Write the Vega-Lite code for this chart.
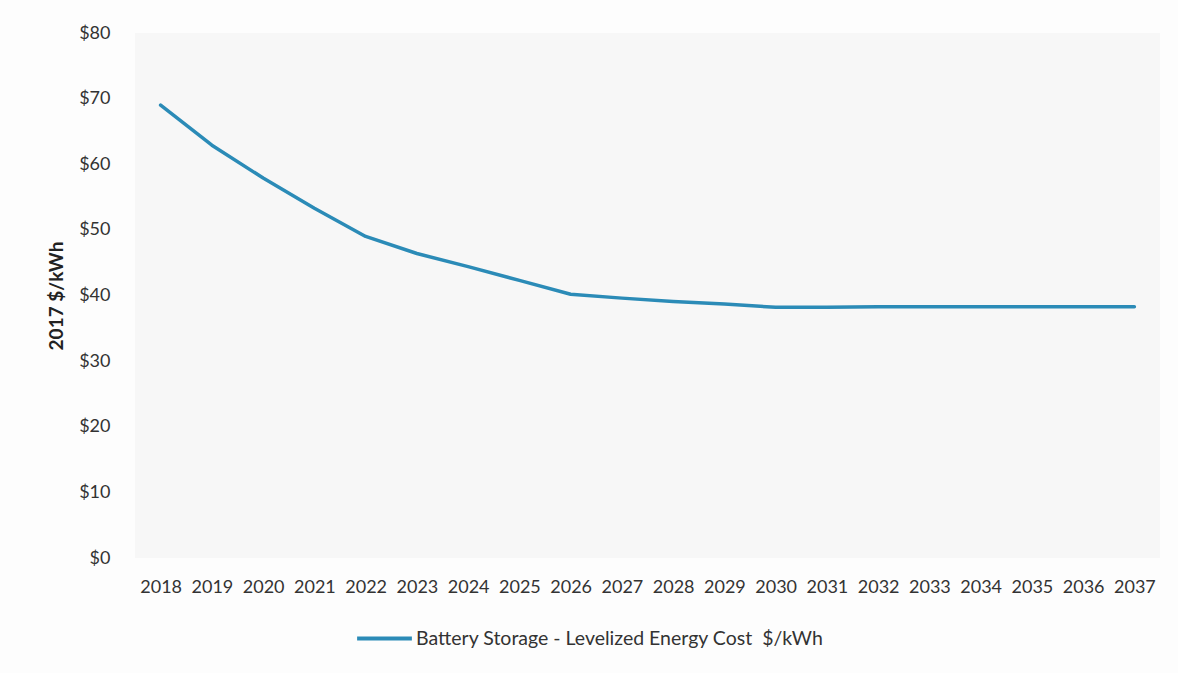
{
  "$schema": "https://vega.github.io/schema/vega-lite/v6.json",
  "width": 1025,
  "height": 525,
  "autosize": {"type": "none"},
  "padding": {"left": 135, "top": 33, "right": 18, "bottom": 115},
  "background": "#fdfdfd",
  "config": {
    "view": {"fill": "#f7f7f7", "stroke": null},
    "font": "Lato"
  },
  "data": {
    "values": [
      {"year": "2018", "cost": 69.0, "series": "Battery Storage - Levelized Energy Cost\u00a0\u00a0$/kWh"},
      {"year": "2019", "cost": 62.9, "series": "Battery Storage - Levelized Energy Cost\u00a0\u00a0$/kWh"},
      {"year": "2020", "cost": 57.9, "series": "Battery Storage - Levelized Energy Cost\u00a0\u00a0$/kWh"},
      {"year": "2021", "cost": 53.3, "series": "Battery Storage - Levelized Energy Cost\u00a0\u00a0$/kWh"},
      {"year": "2022", "cost": 49.0, "series": "Battery Storage - Levelized Energy Cost\u00a0\u00a0$/kWh"},
      {"year": "2023", "cost": 46.4, "series": "Battery Storage - Levelized Energy Cost\u00a0\u00a0$/kWh"},
      {"year": "2024", "cost": 44.4, "series": "Battery Storage - Levelized Energy Cost\u00a0\u00a0$/kWh"},
      {"year": "2025", "cost": 42.3, "series": "Battery Storage - Levelized Energy Cost\u00a0\u00a0$/kWh"},
      {"year": "2026", "cost": 40.2, "series": "Battery Storage - Levelized Energy Cost\u00a0\u00a0$/kWh"},
      {"year": "2027", "cost": 39.6, "series": "Battery Storage - Levelized Energy Cost\u00a0\u00a0$/kWh"},
      {"year": "2028", "cost": 39.1, "series": "Battery Storage - Levelized Energy Cost\u00a0\u00a0$/kWh"},
      {"year": "2029", "cost": 38.7, "series": "Battery Storage - Levelized Energy Cost\u00a0\u00a0$/kWh"},
      {"year": "2030", "cost": 38.2, "series": "Battery Storage - Levelized Energy Cost\u00a0\u00a0$/kWh"},
      {"year": "2031", "cost": 38.2, "series": "Battery Storage - Levelized Energy Cost\u00a0\u00a0$/kWh"},
      {"year": "2032", "cost": 38.3, "series": "Battery Storage - Levelized Energy Cost\u00a0\u00a0$/kWh"},
      {"year": "2033", "cost": 38.3, "series": "Battery Storage - Levelized Energy Cost\u00a0\u00a0$/kWh"},
      {"year": "2034", "cost": 38.3, "series": "Battery Storage - Levelized Energy Cost\u00a0\u00a0$/kWh"},
      {"year": "2035", "cost": 38.3, "series": "Battery Storage - Levelized Energy Cost\u00a0\u00a0$/kWh"},
      {"year": "2036", "cost": 38.3, "series": "Battery Storage - Levelized Energy Cost\u00a0\u00a0$/kWh"},
      {"year": "2037", "cost": 38.3, "series": "Battery Storage - Levelized Energy Cost\u00a0\u00a0$/kWh"}
    ]
  },
  "mark": {"type": "line", "strokeWidth": 3.5, "strokeCap": "round", "strokeJoin": "round"},
  "encoding": {
    "x": {
      "field": "year",
      "type": "ordinal",
      "scale": {"type": "point", "padding": 0.5},
      "axis": {
        "title": null,
        "labelAngle": 0,
        "ticks": false,
        "domain": false,
        "labelFontSize": 18,
        "labelColor": "#333333",
        "labelPadding": 20
      }
    },
    "y": {
      "field": "cost",
      "type": "quantitative",
      "scale": {"domain": [0, 80]},
      "axis": {
        "title": "2017 $/kWh",
        "titleFontSize": 19,
        "titleFontWeight": "bold",
        "titleColor": "#222222",
        "titlePadding": 12,
        "values": [0, 10, 20, 30, 40, 50, 60, 70, 80],
        "format": "$.0f",
        "ticks": false,
        "domain": false,
        "grid": false,
        "labelFontSize": 18,
        "labelColor": "#333333",
        "labelPadding": 25
      }
    },
    "color": {
      "field": "series",
      "type": "nominal",
      "scale": {"range": ["#2b8bb7"]},
      "legend": {
        "title": null,
        "orient": "none",
        "legendX": 220,
        "legendY": 576,
        "symbolType": "stroke",
        "symbolSize": 3000,
        "symbolStrokeWidth": 4,
        "labelFontSize": 19.5,
        "labelLimit": 0,
        "labelColor": "#333333",
        "labelOffset": 2
      }
    }
  }
}
